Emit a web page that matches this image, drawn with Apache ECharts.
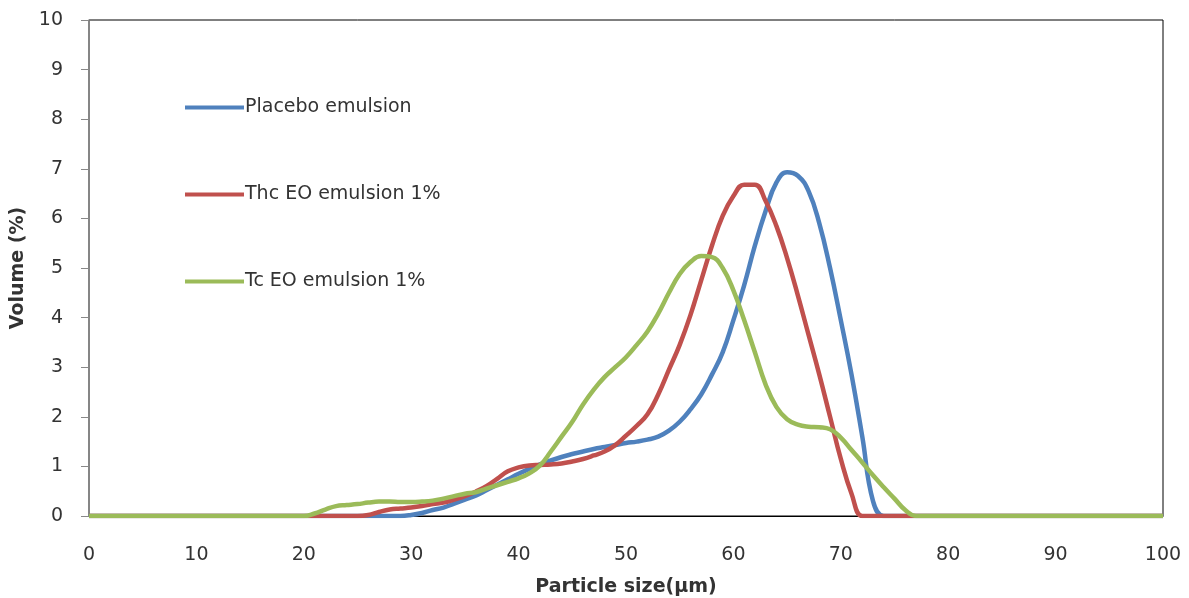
<!DOCTYPE html>
<html>
<head>
<meta charset="utf-8">
<script src="https://cdn.jsdelivr.net/npm/echarts@6/dist/echarts.min.js"></script>
<style>
  html, body { margin: 0; padding: 0; background: #fff; }
  #chart { width: 1189px; height: 598px; }
</style>
</head>
<body>
<div id="chart"></div>
<script>
// particle size (um) sample points
const sizes = [0, 20, 21, 22, 23, 24, 25, 26, 27, 28, 29, 30, 31, 32, 33, 34, 35, 36, 37, 38, 39,
  40, 41, 42, 43, 44, 45, 46, 47, 48, 49, 50, 51, 52, 53, 54, 55, 56, 57, 58, 59,
  60, 61, 62, 63, 64, 65, 66, 67, 68, 69, 70, 71, 72, 73, 74, 75, 76, 77, 78, 100];

const placebo = [0, 0, 0, 0, 0, 0, 0, 0, 0, 0, 0, 0.02, 0.06, 0.12, 0.17, 0.25, 0.33, 0.41, 0.52, 0.63, 0.74,
  0.85, 0.95, 1.04, 1.12, 1.19, 1.25, 1.3, 1.35, 1.39, 1.43, 1.47, 1.5, 1.54, 1.6, 1.72, 1.9, 2.15, 2.45, 2.85, 3.3,
  3.95, 4.65, 5.45, 6.15, 6.72, 6.93, 6.86, 6.55, 5.9, 5.0, 3.95, 2.85, 1.6, 0.3, 0, 0, 0, 0, 0, 0];

const thcEO = [0, 0, 0, 0, 0, 0, 0, 0.02, 0.08, 0.13, 0.15, 0.17, 0.2, 0.24, 0.27, 0.33, 0.4, 0.49, 0.6, 0.75, 0.9,
  0.98, 1.02, 1.03, 1.04, 1.06, 1.1, 1.15, 1.22, 1.3, 1.43, 1.62, 1.82, 2.05, 2.45, 2.95, 3.45, 4.05, 4.75, 5.45, 6.05,
  6.45, 6.68, 6.68, 6.35, 5.85, 5.2, 4.45, 3.65, 2.85, 2.0, 1.15, 0.45, 0, 0, 0, 0, 0, 0, 0, 0];

const tcEO = [0, 0, 0.05, 0.13, 0.2, 0.22, 0.24, 0.27, 0.29, 0.29, 0.28, 0.28, 0.29, 0.31, 0.35, 0.4, 0.45, 0.48, 0.55, 0.62, 0.69,
  0.76, 0.86, 1.02, 1.3, 1.6, 1.9, 2.25, 2.55, 2.8, 3.0, 3.2, 3.45, 3.72, 4.08, 4.5, 4.88, 5.12, 5.24, 5.22, 5.0,
  4.55, 3.95, 3.3, 2.65, 2.2, 1.95, 1.84, 1.8, 1.79, 1.75, 1.58, 1.33, 1.08, 0.82, 0.58, 0.35, 0.12, 0, 0, 0];

const seriesNames = ['Placebo emulsion', 'Thc EO emulsion 1%', 'Tc EO emulsion 1%'];
const seriesColors = ['#4F81BD', '#C0504D', '#9BBB59'];

const chart = echarts.init(document.getElementById('chart'));
const font = 'DejaVu Sans';

function makeSeries(name, values, color) {
  return {
    name: name,
    type: 'line',
    data: sizes.map((s, i) => [s, values[i]]),
    smooth: 0.45,
    showSymbol: false,
    lineStyle: { width: 4.5, color: color },
    itemStyle: { color: color }
  };
}

chart.setOption({
  animation: false,
  color: seriesColors,
  grid: {
    left: 89, right: 26, top: 20, bottom: 82,
    outerBoundsMode: 'none',
    show: true, borderColor: '#000', borderWidth: 1
  },
  legend: {
    orient: 'vertical',
    left: 180, top: 93,
    itemGap: 68,
    itemWidth: 59, itemHeight: 4,
    icon: 'rect',
    textStyle: { fontFamily: font, fontSize: 19, color: '#333', padding: [0, 0, 0, -4] },
    data: seriesNames
  },
  xAxis: {
    type: 'value',
    min: 0, max: 100, interval: 10,
    name: 'Particle size(µm)',
    nameLocation: 'middle',
    nameGap: 62,
    nameTextStyle: { fontFamily: font, fontSize: 19, fontWeight: 'bold', color: '#333' },
    axisLine: { show: true, lineStyle: { color: '#000', width: 1 } },
    axisTick: { show: false },
    splitLine: { show: false },
    axisLabel: { margin: 30, fontFamily: font, fontSize: 19, color: '#333' }
  },
  yAxis: {
    type: 'value',
    min: 0, max: 10, interval: 1,
    name: 'Volume (%)',
    nameLocation: 'middle',
    nameRotate: 90,
    nameGap: 61,
    nameTextStyle: { fontFamily: font, fontSize: 19, fontWeight: 'bold', color: '#333' },
    axisLine: { show: true, lineStyle: { color: '#888', width: 1.5 } },
    axisTick: { show: true, length: 8, lineStyle: { color: '#888' } },
    splitLine: { show: false },
    axisLabel: { margin: 26, fontFamily: font, fontSize: 19, color: '#333' }
  },
  series: [
    makeSeries(seriesNames[0], placebo, seriesColors[0]),
    makeSeries(seriesNames[1], thcEO, seriesColors[1]),
    makeSeries(seriesNames[2], tcEO, seriesColors[2])
  ]
});
</script>
</body>
</html>
